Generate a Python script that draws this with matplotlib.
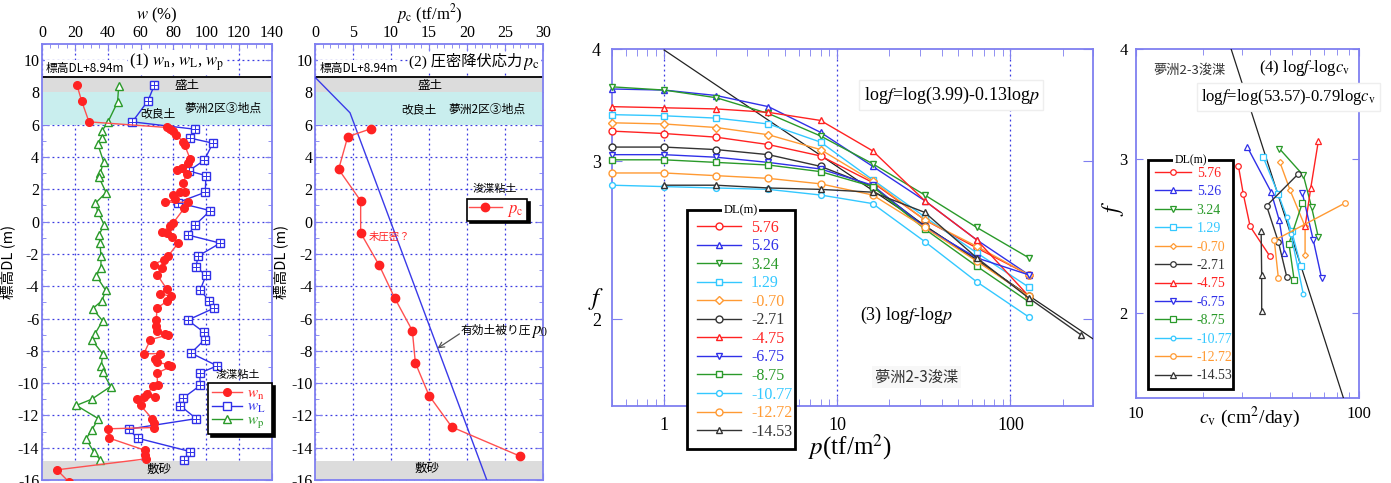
import numpy as np
import matplotlib
matplotlib.use('Agg')
import matplotlib.pyplot as plt
from matplotlib.ticker import FixedLocator, MultipleLocator, NullFormatter, NullLocator, FixedFormatter

plt.rcParams['font.family'] = ['Liberation Serif', 'Noto Sans CJK JP']
plt.rcParams['mathtext.fontset'] = 'stix'
plt.rcParams['axes.unicode_minus'] = False
JP = ['Noto Sans CJK JP', 'DejaVu Sans']

# ---------------- data ----------------
# panel 1 : water contents vs depth
wn = [21.3, 24.1, 28.6, 76, 78, 80, 81.6, 86, 86.8, 90.3, 89, 85, 82, 88, 86, 87, 84, 80, 81, 75, 89,
      86.6, 80, 78, 73, 76, 79, 83, 77, 74, 68, 73, 70, 76, 72, 78.5, 76, 70, 69.6, 69.6, 70, 75, 77,
      66, 62, 72, 69, 70, 77, 78.5, 70, 70.4, 67.6, 64, 69, 62, 58, 60, 67, 68, 68, 40, 40.8, 63, 62.5,
      63.3, 9.1, 16.2]
dl_wn = [8.45, 7.48, 6.18, 5.83, 5.75, 5.6, 5.35, 4.96, 4.75, 3.86, 3.6, 3.3, 3.2, 2.95, 2.4, 1.86, 1.86,
         1.65, 1.38, 1.2, 1.2, 0.83, -0.06, -0.3, -0.62, -0.72, -0.93, -1.32, -2.1, -2.35, -2.66, -2.87,
         -3.28, -4.17, -4.46, -4.63, -4.94, -5.35, -6.1, -6.45, -6.8, -6.94, -7.0, -7.31, -8.18, -8.18,
         -8.5, -8.7, -8.86, -8.97, -9.38, -10.14, -10.2, -10.66, -10.87, -10.83, -11.0, -11.38, -12.2,
         -12.48, -12.75, -12.83, -13.4, -14.17, -14.48, -14.69, -15.37, -16.1]
wL = [68.4, 64.5, 55, 93.3, 90.3, 104, 98.8, 89.3, 99.8, 99.4, 82.6, 102.5, 93.3, 88.9, 108.5, 94.7, 94,
      99.8, 96.4, 101.8, 104.9, 88.7, 98.8, 99, 90.7, 106.7, 96, 96.4, 85.8, 84.2, 93.9, 52.7, 58.2,
      90.3, 86.6]
dl_wL = [8.45, 7.48, 6.18, 5.72, 5.17, 4.86, 3.8, 3.14, 2.85, 1.82, 1.18, 0.68, -0.2, -0.83, -1.33,
         -2.15, -2.81, -3.33, -4.21, -4.94, -5.35, -6.1, -6.86, -7.31, -8.14, -8.93, -9.38, -10.14,
         -10.93, -11.4, -12.2, -12.85, -13.41, -14.24, -14.75]
wp = [46.7, 46, 40, 36.5, 36.5, 33.9, 37.5, 35.5, 34.5, 39, 32.5, 33.9, 37.9, 34.5, 35.3, 35.9, 35.9,
      33, 38.8, 36.5, 30.8, 36.9, 32.3, 30.6, 36.9, 36.1, 37.1, 41.8, 30.2, 20.9, 34.3, 30.4, 26.8,
      31.6, 35.5]
dl_wp = [8.41, 7.4, 6.14, 5.62, 5.17, 4.81, 3.72, 3.0, 2.79, 1.8, 1.14, 0.62, -0.2, -0.85, -1.32,
         -2.15, -2.87, -3.35, -4.26, -4.9, -5.39, -6.14, -6.94, -7.36, -8.18, -8.97, -9.34, -10.21,
         -11.0, -11.38, -12.2, -12.89, -13.45, -14.28, -14.75]

# panel 2 : consolidation yield stress
dl_samples = [5.76, 5.26, 3.24, 1.29, -0.70, -2.71, -4.75, -6.75, -8.75, -10.77, -12.72, -14.53]
pc = [7.4, 4.3, 3.1, 6.0, 6.0, 8.45, 10.5, 12.8, 13.2, 15.0, 18.0, 27.0]
p0_dl = [8.94, 6.74, -16.0]
p0 = [0.0, 4.6, 22.6]

# panel 3 : f vs p
dl_labels = ['5.76', '5.26', '3.24', '1.29', '-0.70', '-2.71', '-4.75', '-6.75', '-8.75', '-10.77',
             '-12.72', '-14.53']
p_load = [0.5, 1, 2, 4, 8, 16, 32, 64, 128]
p_load_last = [1, 2, 4, 8, 16, 32, 64, 128, 256]
f_p = [
    [3.24, 3.22, 3.19, 3.13, 3.04, 2.84, 2.58, 2.40, 2.24],
    [3.61, 3.60, 3.55, 3.45, 3.23, 2.96, 2.71, 2.45, 2.24],
    [3.63, 3.60, 3.53, 3.39, 3.20, 2.98, 2.75, 2.53, 2.34],
    [3.38, 3.37, 3.35, 3.30, 3.15, 2.86, 2.60, 2.37, 2.17],
    [3.31, 3.30, 3.27, 3.21, 3.09, 2.85, 2.58, 2.41, 2.24],
    [3.11, 3.11, 3.09, 3.05, 2.96, 2.81, 2.54, 2.33, 2.12],
    [3.45, 3.44, 3.43, 3.40, 3.33, 3.08, 2.71, 2.45, 2.12],
    [3.05, 3.05, 3.03, 2.99, 2.94, 2.82, 2.53, 2.34, 2.24],
    [3.01, 3.01, 2.99, 2.97, 2.92, 2.81, 2.52, 2.29, 2.09],
    [2.82, 2.81, 2.80, 2.79, 2.75, 2.69, 2.44, 2.20, 2.01],
    [2.91, 2.91, 2.89, 2.87, 2.83, 2.75, 2.53, 2.32, 2.12],
    [2.82, 2.82, 2.80, 2.79, 2.77, 2.63, 2.34, 2.11, 1.92],
]
fit3_a, fit3_b = 3.99, 0.13

# panel 4 : f vs cv
cv_list = [
    [28.8, 30.3, 32.5, 39.9],
    [31.6, 40.3, 43.9, 46.3],
    [43.9, 56.3, 61.3, 65.7],
    [37.2, 43.5, 49.9, 54.9],
    [44.2, 49.1, 57.3, 57.3],
    [53.3, 38.5, 43.5, 47.4],
    [65.7, 60.8, 57.3],
    [55.7, 62.4, 68.0],
    [55.7, 48.5, 51.2],
    [47.4, 49.5, 56.3],
    [86.8, 41.7, 43.5],
    [36.4, 36.6, 36.6],
]
f_cv = [
    [2.94, 2.73, 2.51, 2.32],
    [3.09, 2.75, 2.55, 2.34],
    [3.08, 2.87, 2.64, 2.44],
    [3.01, 2.73, 2.48, 2.26],
    [2.97, 2.76, 2.51, 2.33],
    [2.88, 2.65, 2.41, 2.20],
    [3.14, 2.78, 2.51],
    [2.74, 2.42, 2.19],
    [2.67, 2.40, 2.18],
    [2.57, 2.46, 2.10],
    [2.67, 2.42, 2.19],
    [2.48, 2.21, 2.01],
]
fit4_a, fit4_b = 53.57, 0.79

# ---------------- styles ----------------
RED, BLUE, GREEN, CYAN, ORANGE, BLACK = '#ff2222', '#3030e8', '#2a9a2a', '#33c8ff', '#ff9a33', '#333333'
colors = [RED, BLUE, GREEN, CYAN, ORANGE, BLACK, RED, BLUE, GREEN, CYAN, ORANGE, BLACK]
markers = ['o', '^', 'v', 's', 'D', 'o', '^', 'v', 's', 'o', 'o', '^']
msizes = [5, 5, 5, 5, 3.8, 5, 5, 5, 5, 4.2, 5, 5]
SPINE = '#7f7ff0'
GRID = '#3a3ae0'
WHITE_BOX = dict(facecolor='white', edgecolor='none', pad=1)

fig = plt.figure(figsize=(13.91, 4.83), dpi=100)


def style_depth(ax, xmax, xmajor, xminor):
    ax.set_xlim(0, xmax)
    ax.set_ylim(-16, 11)
    ax.xaxis.tick_top()
    ax.xaxis.set_label_position('top')
    ax.xaxis.set_major_locator(MultipleLocator(xmajor))
    ax.xaxis.set_minor_locator(MultipleLocator(xminor))
    ax.yaxis.set_major_locator(MultipleLocator(2))
    ax.yaxis.set_minor_locator(MultipleLocator(1))
    ax.tick_params(which='both', direction='in', top=True, bottom=True, left=True, right=True,
                   color=SPINE, labelsize=11.5, pad=2)
    ax.tick_params(which='major', length=5)
    ax.tick_params(which='minor', length=3)
    for s in ax.spines.values():
        s.set_color(SPINE)
        s.set_linewidth(1.3)
    ax.set_axisbelow(True)
    ax.grid(True, which='major', ls=(0, (1.5, 2.5)), color=GRID, lw=0.9)
    ax.axhspan(8, 8.94, color='#dcdcdc', zorder=1, lw=0)
    ax.axhspan(6, 8, color='#c9eeee', zorder=1, lw=0)
    ax.axhspan(-16, -14.8, color='#dcdcdc', zorder=1, lw=0)
    ax.axhline(8.94, color='black', lw=1.3, zorder=2)
    ax.set_ylabel('標高DL (m)', family=JP, fontsize=10.5, labelpad=2)


def jp(ax, x, y, s, fs=8.5, **kw):
    kw.setdefault('ha', 'center')
    return ax.text(x, y, s, family=JP, fontsize=fs, va='center', zorder=6, **kw)


# ---- panel 1 ----
ax1 = fig.add_axes([0.0302, 0.0062, 0.1653, 0.9027])
style_depth(ax1, 140, 20, 5)
ax1.set_xlabel('$w$ (%)', fontsize=12, labelpad=4)
lp, = ax1.plot(wp, dl_wp, '-', color=GREEN, lw=1, marker='^', ms=6, mfc='white', mec=GREEN, zorder=4)
lL, = ax1.plot(wL, dl_wL, '-', color=BLUE, lw=1, marker='s', ms=5.5, mfc='white', mec=BLUE, zorder=4)
ax1.plot(wL, dl_wL, '+', ms=5.5, color=BLUE, mew=0.7, zorder=4.5, ls='none')
ln, = ax1.plot(wn, dl_wn, '-', color='#ff5050', lw=1, marker='o', ms=5.5, mfc=RED, mec=RED, zorder=5)
leg1 = ax1.legend([ln, lL, lp], ['$w_{\\rm n}$', '$w_{\\rm L}$', '$w_{\\rm p}$'], loc='upper left',
                  bbox_to_anchor=(0.722, 0.115, 0.278, 0.107), mode='expand', fontsize=11,
                  labelcolor=[RED, BLUE, GREEN], frameon=True, fancybox=False,
                  shadow={'color': 'black', 'alpha': 1}, handlelength=2.0, labelspacing=-0.1,
                  borderpad=0.25, handletextpad=0.3, borderaxespad=0)
leg1.get_frame().set_edgecolor('black')
leg1.get_frame().set_linewidth(1.2)
jp(ax1, 119.5, -9.5, '浚渫粘土', 8)
jp(ax1, 2.5, 9.5, '標高DL+8.94m', 8.5, ha='left', bbox=WHITE_BOX)
ax1.text(53, 9.85, '(1) $w_{\\rm n}$, $w_{\\rm L}$, $w_{\\rm p}$', fontsize=12, ha='left',
         va='center', zorder=6, bbox=WHITE_BOX)
jp(ax1, 88, 8.45, '盛土', 9)
jp(ax1, 70.5, 6.65, '改良土', 8.5)
jp(ax1, 110, 7.0, '夢洲2区③地点', 8.5)
jp(ax1, 71, -15.35, '敷砂', 9)

# ---- panel 2 ----
ax2 = fig.add_axes([0.2265, 0.0062, 0.1639, 0.9027])
style_depth(ax2, 30, 5, 1)
ax2.set_xlabel('$p_{\\rm c}$ (tf/m$^2$)', fontsize=12, labelpad=4)
ax2.plot(p0, p0_dl, '-', color='#3a3ae8', lw=1, zorder=4)
lpc, = ax2.plot(pc, dl_samples, '-', color='#ff5050', lw=1, marker='o', ms=6, mfc=RED, mec=RED,
                zorder=5)
leg2 = ax2.legend([lpc], ['$p_{\\rm c}$'], loc='upper left', bbox_to_anchor=(0.667, 0.594, 0.263, 0.05),
                  mode='expand', fontsize=12, labelcolor=[RED], fancybox=False,
                  shadow={'color': 'black', 'alpha': 1}, handlelength=2.0, borderpad=0.1,
                  handletextpad=0.3, borderaxespad=0)
leg2.get_frame().set_edgecolor('black')
leg2.get_frame().set_linewidth(1.2)
jp(ax2, 23.7, 2.0, '浚渫粘土', 8)
jp(ax2, 0.6, 9.5, '標高DL+8.94m', 8.5, ha='left', bbox=WHITE_BOX)
t2m = ax2.text(29.6, 9.8, '$p_{\\rm c}$', fontsize=13, ha='right', va='center', zorder=6, bbox=WHITE_BOX)
ax2.annotate('(2) 圧密降伏応力', xy=(0, 0.62), xycoords=t2m, fontsize=11, ha='right', va='center',
             zorder=6, bbox=WHITE_BOX)
jp(ax2, 15.1, 8.45, '盛土', 9)
jp(ax2, 13.7, 6.95, '改良土', 8.5)
jp(ax2, 22.6, 6.95, '夢洲2区③地点', 8.5)
jp(ax2, 14.7, -15.3, '敷砂', 9)
jp(ax2, 7.0, -0.95, '未圧密？', 7.5, ha='left', color=RED)
tj = jp(ax2, 19.1, -6.75, '有効土被り圧', 8.5, ha='left')
ax2.annotate('$p_0$', xy=(1, 0.4), xycoords=tj, fontsize=12, ha='left', va='center', zorder=6)
ax2.annotate('', xy=(16.1, -7.85), xytext=(19.0, -6.95),
             arrowprops=dict(arrowstyle='->', color='#555555', lw=0.9, shrinkA=0, shrinkB=0))


def style_log(ax, xlim, xmajor, ylim):
    ax.set_xscale('log')
    ax.set_yscale('log')
    ax.set_xlim(*xlim)
    ax.set_ylim(*ylim)
    ax.xaxis.set_major_locator(FixedLocator(xmajor))
    ax.xaxis.set_major_formatter(FixedFormatter([str(v) for v in xmajor]))
    minors = [m * d for d in [0.1, 1, 10, 100] for m in range(2, 10)]
    ax.xaxis.set_minor_locator(FixedLocator(minors))
    ax.xaxis.set_minor_formatter(NullFormatter())
    ax.yaxis.set_major_locator(FixedLocator([2, 3, 4]))
    ax.yaxis.set_major_formatter(FixedFormatter(['2', '3', '4']))
    ax.yaxis.set_minor_locator(NullLocator())
    ax.tick_params(which='both', direction='in', top=True, bottom=True, left=True, right=True,
                   color=SPINE)
    ax.tick_params(which='major', length=7)
    ax.tick_params(which='minor', length=5)
    for s in ax.spines.values():
        s.set_color(SPINE)
        s.set_linewidth(1.3)


# ---- panel 3 ----
ax3 = fig.add_axes([0.44, 0.1594, 0.3458, 0.7391])
style_log(ax3, (0.5, 300), [1, 10, 100], (1.6, 4))
ax3.tick_params(labelsize=13, pad=8)
for xv in [1, 10, 100]:
    ax3.axvline(xv, color=GRID, ls=(0, (1.5, 2.5)), lw=0.9, zorder=0.5)
pfit = np.logspace(0, np.log10(300), 50)
ax3.plot(pfit, fit3_a * pfit ** (-fit3_b), color='#222222', lw=0.9, zorder=3)
handles3 = []
for i in range(len(dl_labels)):
    px = p_load_last if i == len(dl_labels) - 1 else p_load
    hh, = ax3.plot(px, f_p[i], '-', color=colors[i], lw=1, marker=markers[i], ms=msizes[i],
                   mfc='white', mec=colors[i], mew=1, zorder=4, label=dl_labels[i], clip_on=False)
    handles3.append(hh)
ax3.text(0.495, -0.115, '$p$(tf/m$^2$)', transform=ax3.transAxes, fontsize=18, ha='center',
         va='center')
ax3.text(-0.033, 0.30, '$f$', transform=ax3.transAxes, fontsize=18, ha='center', va='center')
leg3 = ax3.legend(handles=handles3, loc='upper left', bbox_to_anchor=(0.156, 0.539, 0.224, 0.01),
                  mode='expand', fontsize=11.5, labelcolor='linecolor', fancybox=False,
                  handlelength=2.8, labelspacing=0.16, borderpad=0.6, handletextpad=0.6,
                  borderaxespad=0, framealpha=1)
leg3.get_frame().set_edgecolor('black')
leg3.get_frame().set_linewidth(2)
leg3.set_zorder(10)
ax3.text(0.523, 0.871, 'log$f$=log(3.99)-0.13log$p$', transform=ax3.transAxes, fontsize=13,
         ha='left', va='center', zorder=6,
         bbox=dict(facecolor='white', edgecolor='#eeeeee', pad=3))
ax3.text(0.516, 0.255, '(3) log$f$-log$p$', transform=ax3.transAxes, fontsize=13, ha='left',
         va='center', zorder=6)
ax3.text(0.547, 0.081, '夢洲2-3浚渫', transform=ax3.transAxes, family=JP, fontsize=11, ha='left',
         va='center', zorder=6, color='#333333',
         bbox=dict(facecolor='#f7f7f7', edgecolor='none', pad=2))

# ---- panel 4 ----
ax4 = fig.add_axes([0.8167, 0.176, 0.1603, 0.7226])
style_log(ax4, (10, 100), [10, 100], (1.6, 4))
ax4.tick_params(labelsize=12, pad=6)
ax4.tick_params(which='major', length=5)
ax4.tick_params(which='minor', length=4)
cvfit = np.logspace(1, 2, 60)
ax4.plot(cvfit, fit4_a * cvfit ** (-fit4_b), color='#222222', lw=0.9, zorder=3)
handles4 = []
for i in range(len(dl_labels)):
    hh, = ax4.plot(cv_list[i], f_cv[i], '-', color=colors[i], lw=1, marker=markers[i],
                   ms=msizes[i] * 0.8, mfc='white', mec=colors[i], mew=0.9, zorder=4,
                   label=dl_labels[i])
    handles4.append(hh)
ax4.text(0.507, -0.057, '$c_{\\rm v}$ (cm$^2$/day)', transform=ax4.transAxes, fontsize=14,
         ha='center', va='center')
ax4.text(-0.103, 0.544, '$f$', transform=ax4.transAxes, fontsize=17, rotation=90, ha='center',
         va='center')
leg4 = ax4.legend(handles=handles4, loc='upper left', bbox_to_anchor=(0.054, 0.672, 0.381, 0.01),
                  mode='expand', fontsize=10, labelcolor='linecolor', fancybox=False,
                  handlelength=2.6, labelspacing=0.39, borderpad=0.5, handletextpad=0.4,
                  borderaxespad=0, framealpha=1)
leg4.get_frame().set_edgecolor('black')
leg4.get_frame().set_linewidth(2)
leg4.set_zorder(10)
ax4.text(0.076, 0.94, '夢洲2-3浚渫', transform=ax4.transAxes, family=JP, fontsize=9.5,
         ha='left', va='center', zorder=6, color='#333333')
ax4.text(0.55, 0.945, '(4) log$f$-log$c_{\\rm v}$', transform=ax4.transAxes, fontsize=12,
         ha='left', va='center', zorder=6)
ax4.text(0.29, 0.862, 'log$f$=log(53.57)-0.79log$c_{\\rm v}$', transform=ax4.transAxes,
         fontsize=12, ha='left', va='center', zorder=6,
         bbox=dict(facecolor='white', edgecolor='#eeeeee', pad=3))

# legend titles sitting on the top border
fig.canvas.draw()
for lg, fs in [(leg3, 9), (leg4, 8.5)]:
    bb = lg.get_window_extent()
    fig.text((bb.x0 + bb.x1) / 2, bb.y1, 'DL(m)', transform=None, fontsize=fs, ha='center',
             va='center', zorder=20, bbox=dict(facecolor='white', edgecolor='none', pad=1))

fig.savefig('out.png', dpi=100)
